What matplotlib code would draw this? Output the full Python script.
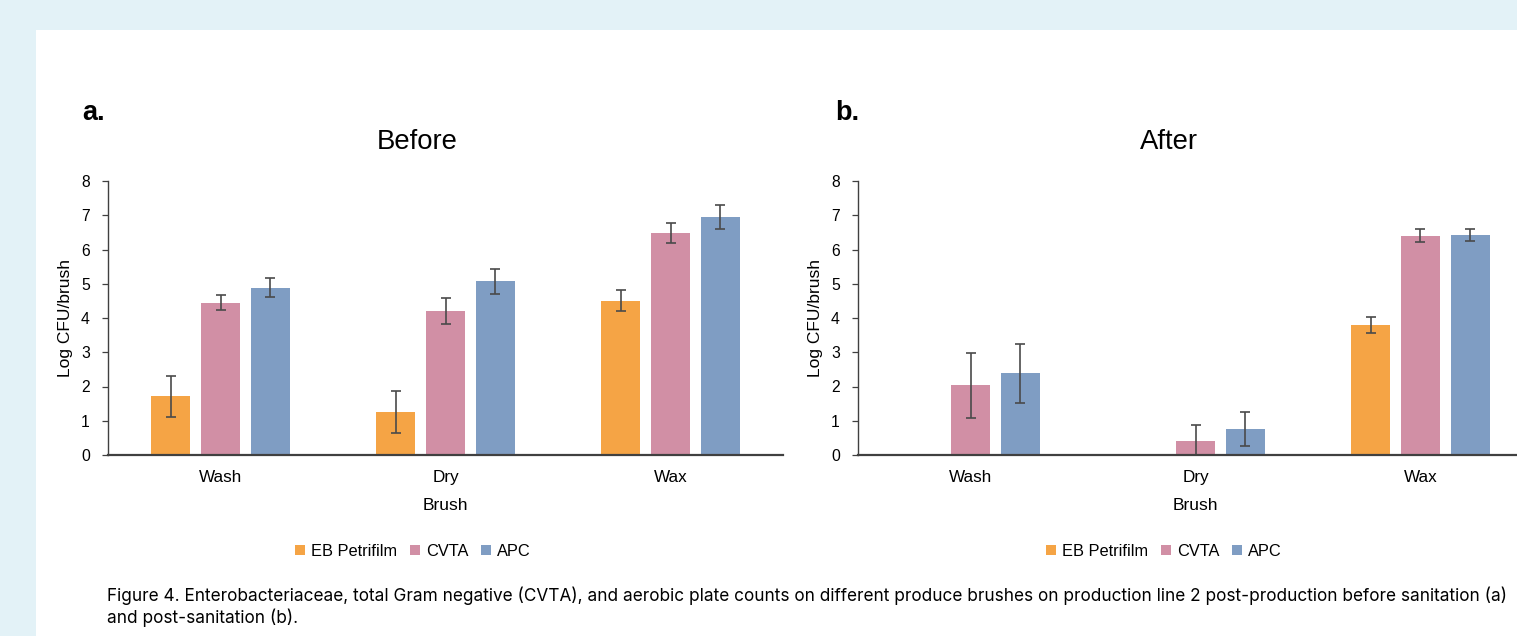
import numpy as np
import matplotlib.pyplot as plt
from matplotlib.patches import Rectangle, Patch

# datos
brushes = ['Wash', 'Dry', 'Wax']
series = ['EB Petrifilm', 'CVTA', 'APC']
colors = ['#F5A445', '#D18FA5', '#7F9DC3']

before_eb = [1.72, 1.25, 4.50]
before_cvta = [4.45, 4.20, 6.49]
before_apc = [4.89, 5.07, 6.94]
before_eb_err = [0.60, 0.61, 0.31]
before_cvta_err = [0.22, 0.375, 0.29]
before_apc_err = [0.28, 0.37, 0.35]

after_eb = [0.0, 0.0, 3.80]
after_cvta = [2.03, 0.42, 6.40]
after_apc = [2.38, 0.76, 6.42]
after_eb_err = [0.0, 0.0, 0.235]
after_cvta_err = [0.96, 0.45, 0.19]
after_apc_err = [0.85, 0.50, 0.18]

W, H = 1517, 636
fig = plt.figure(figsize=(W / 100, H / 100), dpi=100)
fig.patch.set_facecolor('#E3F2F7')
fig.patches.append(Rectangle((36 / W, 0), 1 - 36 / W, (H - 30) / H,
                             transform=fig.transFigure, facecolor='white',
                             edgecolor='none', zorder=-5))

font_axes = ['Liberation Sans', 'DejaVu Sans']
font_text = ['Inter', 'DejaVu Sans']


def draw_panel(ax, vals, errs):
    x = np.arange(len(brushes))
    for i in range(3):
        pos = x + (i - 1) * 0.222
        ax.bar(pos, vals[i], width=0.173, color=colors[i], zorder=2)
        e = np.array(errs[i])
        v = np.array(vals[i])
        m = e > 0
        ax.errorbar(pos[m], v[m], yerr=e[m], fmt='none', ecolor='#4a4a4a',
                    elinewidth=1.2, capsize=3.5, capthick=1.2, zorder=3)
    ax.set_xlim(-0.5, 2.5)
    ax.set_ylim(0, 8)
    ax.set_yticks(range(0, 9))
    ax.set_xticks(x)
    ax.set_xticklabels(brushes, fontsize=12.3, family=font_axes)
    for lab in ax.get_yticklabels():
        lab.set_family(font_axes)
        lab.set_fontsize(11.3)
    ax.tick_params(axis='x', length=0, pad=11)
    ax.tick_params(axis='y', length=4, width=0.9, color='#404040', pad=9)
    ax.spines['top'].set_visible(False)
    ax.spines['right'].set_visible(False)
    ax.spines['left'].set_color('#404040')
    ax.spines['left'].set_linewidth(1.0)
    ax.spines['bottom'].set_color('#404040')
    ax.spines['bottom'].set_linewidth(1.6)
    ax.spines['bottom'].set_zorder(4)
    ax.set_ylabel('Log CFU/brush', fontsize=12.5, family=font_axes, labelpad=6)
    ax.set_xlabel('Brush', fontsize=12.5, family=font_axes, labelpad=9)
    ax.set_facecolor('none')


ax_a = fig.add_axes([108 / W, 181 / H, 675 / W, 274 / H])
draw_panel(ax_a, [before_eb, before_cvta, before_apc],
           [before_eb_err, before_cvta_err, before_apc_err])

ax_b = fig.add_axes([858 / W, 181 / H, 675 / W, 274 / H])
draw_panel(ax_b, [after_eb, after_cvta, after_apc],
           [after_eb_err, after_cvta_err, after_apc_err])

# titulos y etiquetas de panel
fig.text(417 / W, 1 - 142 / H, 'Before', ha='center', va='center',
         fontsize=19.8, family=font_axes)
fig.text(1169 / W, 1 - 142 / H, 'After', ha='center', va='center',
         fontsize=19.8, family=font_axes)
fig.text(82 / W, 1 - 113 / H, 'a.', ha='left', va='center',
         fontsize=19.5, fontweight='bold', family=font_axes)
fig.text(835 / W, 1 - 113 / H, 'b.', ha='left', va='center',
         fontsize=19.5, fontweight='bold', family=font_axes)

# leyendas
handles = [Patch(facecolor=c, edgecolor='none') for c in colors]
for cx in (413, 1164):
    fig.legend(handles, series, loc='center', bbox_to_anchor=(cx / W, 1 - 551 / H),
               ncol=3, frameon=False, handlelength=0.6, handleheight=0.6,
               handletextpad=0.35, columnspacing=0.8,
               prop={'family': font_axes, 'size': 11.8})

# pie de figura
caption = ('Figure 4. Enterobacteriaceae, total Gram negative (CVTA), and aerobic plate counts '
           'on different produce brushes on production line 2 post-production before sanitation (a)\n'
           'and post-sanitation (b).')
fig.text(107 / W, 1 - 607 / H, caption, ha='left', va='center', fontsize=12.4,
         family=font_text, linespacing=1.22)

fig.savefig('out.png', dpi=100)
